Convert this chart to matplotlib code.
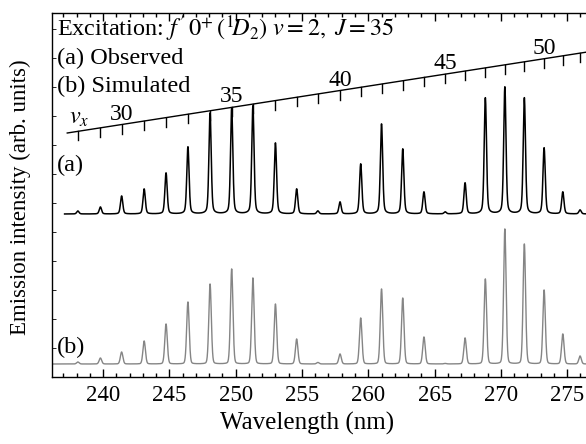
import numpy as np
import matplotlib
matplotlib.use("Agg")
import matplotlib.pyplot as plt
from matplotlib.ticker import MultipleLocator

plt.rcParams['font.family'] = ['Liberation Serif', 'DejaVu Serif']
plt.rcParams['mathtext.fontset'] = 'stix'

# vibrational progression v = 28 ... 52 (peak centres, nm)
v_levels = list(range(28, 53))
peak_nm = [238.1, 239.8, 241.4, 243.1, 244.75, 246.4, 248.07, 249.7, 251.3,
           253.0, 254.6, 256.2, 257.87, 259.43, 261.0, 262.6, 264.2, 265.8,
           267.3, 268.83, 270.3, 271.77, 273.26, 274.67, 275.97]
# (a) observed peak heights, arb. units
obs_height = [3, 7, 18, 25, 41, 67, 101, 106, 108, 71, 25, 3,
              12, 50, 90, 65, 22, 2, 31, 116, 127, 116, 66, 22, 4]
# (b) simulated peak heights, arb. units
sim_height = [2, 6, 12, 23, 40, 62, 80, 95, 86, 60, 25, 1.5,
              10, 46, 75, 66, 27, 0.5, 26, 85, 135, 120, 74, 30, 8]
ladder_labels = [30, 35, 40, 45, 50]

OBS_BASE = 163
SIM_BASE = 13


def spectrum(wl, centres, heights, sigma, gamma, frac):
    out = np.zeros_like(wl)
    for c, h in zip(centres, heights):
        g = np.exp(-0.5 * ((wl - c) / sigma) ** 2)
        lor = gamma ** 2 / ((wl - c) ** 2 + gamma ** 2)
        out += h * ((1 - frac) * g + frac * lor)
    return out


fig = plt.figure(figsize=(5.86, 4.44), dpi=100)
ax = fig.add_axes([52 / 586, 67 / 444, 541.7 / 586, 364 / 444])
ax.set_xlim(236.15, 277)
ax.set_ylim(0, 364)

wl_obs = np.linspace(237.1, 277, 4000)
wl_sim = np.linspace(236.2, 277, 4000)
ax.plot(wl_obs, OBS_BASE + spectrum(wl_obs, peak_nm, obs_height, 0.085, 0.11, 0.3),
        color='black', lw=1.1)
ax.plot(wl_sim, SIM_BASE + spectrum(wl_sim, peak_nm, sim_height, 0.095, 0.1, 0.15),
        color='#858585', lw=1.0)

# v ladder
lad_x = [237.3, 277]
lad_y = [244, 326]
ax.plot(lad_x, lad_y, color='black', lw=1.0, clip_on=False)
for v, c in zip(v_levels, peak_nm):
    yb = np.interp(c, lad_x, lad_y)
    ax.plot([c, c], [yb, yb - 9], color='black', lw=1.0)
    if v in ladder_labels:
        ax.text(c, yb, str(v), ha='center', va='bottom', fontsize=17)

fs = 17.5
ax.text(0.009, 0.956, r"Excitation: $f\,'\,0^{+}\,(^{1}\!D_{2})\ v = 2,\ J = 35$",
        transform=ax.transAxes, va='center', ha='left', fontsize=fs)
ax.text(0.009, 0.874, "(a) Observed", transform=ax.transAxes, va='center', fontsize=fs)
ax.text(0.009, 0.797, "(b) Simulated", transform=ax.transAxes, va='center', fontsize=fs)
ax.text(0.031, 0.71, r"$v_x$", transform=ax.transAxes, va='center', fontsize=fs)
ax.text(0.009, 0.582, "(a)", transform=ax.transAxes, va='center', fontsize=fs)
ax.text(0.009, 0.080, "(b)", transform=ax.transAxes, va='center', fontsize=fs)

ax.xaxis.set_major_locator(MultipleLocator(5))
ax.xaxis.set_minor_locator(MultipleLocator(1))
ax.yaxis.set_major_locator(MultipleLocator(29))
ax.tick_params(axis='x', which='major', direction='in', length=6, width=1,
               top=True, labelsize=16.5, pad=6)
ax.tick_params(axis='x', which='minor', direction='in', length=3, width=1, top=True)
ax.tick_params(axis='y', which='major', direction='in', length=3, width=0.6,
               labelleft=False)
ax.spines['right'].set_visible(False)
for s in ['left', 'bottom', 'top']:
    ax.spines[s].set_linewidth(1.0)

ax.set_xlabel("Wavelength (nm)", fontsize=18)
ax.set_ylabel("Emission intensity (arb. units)", fontsize=16.5)
ax.xaxis.set_label_coords((307 - 52) / 541.7, -(412 - 377) / 364)
ax.yaxis.set_label_coords(-(52 - 31) / 541.7, (377 - 197) / 364)

fig.savefig("out.png", dpi=100)
